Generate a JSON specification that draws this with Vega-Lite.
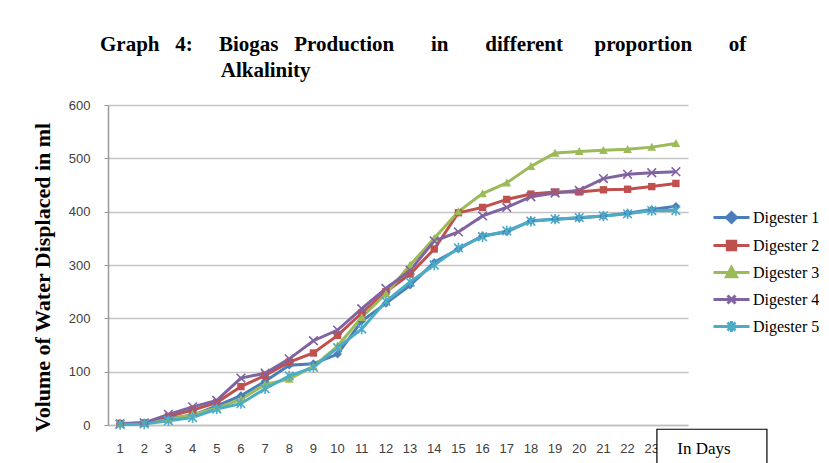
{
  "$schema": "https://vega.github.io/schema/vega-lite/v6.json",
  "width": 580,
  "height": 320,
  "autosize": {"type": "none"},
  "padding": {"left": 108, "top": 105, "right": 141, "bottom": 38},
  "background": "white",
  "title": {
    "text": [
      "Graph\u00a0\u00a0\u00a04:\u00a0\u00a0\u00a0\u00a0\u00a0Biogas\u00a0\u00a0\u00a0Production\u00a0\u00a0\u00a0\u00a0\u00a0\u00a0\u00a0in\u00a0\u00a0\u00a0\u00a0\u00a0\u00a0\u00a0different\u00a0\u00a0\u00a0\u00a0\u00a0\u00a0proportion\u00a0\u00a0\u00a0\u00a0\u00a0\u00a0\u00a0of",
      "\u200b\u00a0\u00a0\u00a0\u00a0\u00a0\u00a0\u00a0\u00a0\u00a0\u00a0\u00a0\u00a0\u00a0\u00a0\u00a0\u00a0\u00a0\u00a0\u00a0\u00a0\u00a0\u00a0\u00a0Alkalinity"
    ],
    "anchor": "start",
    "frame": "group",
    "dx": -8,
    "offset": 18,
    "font": "Liberation Serif",
    "fontSize": 21,
    "fontWeight": "bold",
    "color": "#000000",
    "lineHeight": 26
  },
  "config": {"view": {"stroke": null}, "font": "Liberation Sans"},
  "data": {
    "values": [
      {"Day": 1, "Digester": "Digester 1", "Volume": 2},
      {"Day": 2, "Digester": "Digester 1", "Volume": 3},
      {"Day": 3, "Digester": "Digester 1", "Volume": 12},
      {"Day": 4, "Digester": "Digester 1", "Volume": 18},
      {"Day": 5, "Digester": "Digester 1", "Volume": 36},
      {"Day": 6, "Digester": "Digester 1", "Volume": 55},
      {"Day": 7, "Digester": "Digester 1", "Volume": 82},
      {"Day": 8, "Digester": "Digester 1", "Volume": 112},
      {"Day": 9, "Digester": "Digester 1", "Volume": 115},
      {"Day": 10, "Digester": "Digester 1", "Volume": 133},
      {"Day": 11, "Digester": "Digester 1", "Volume": 195},
      {"Day": 12, "Digester": "Digester 1", "Volume": 228},
      {"Day": 13, "Digester": "Digester 1", "Volume": 262},
      {"Day": 14, "Digester": "Digester 1", "Volume": 305},
      {"Day": 15, "Digester": "Digester 1", "Volume": 330},
      {"Day": 16, "Digester": "Digester 1", "Volume": 355},
      {"Day": 17, "Digester": "Digester 1", "Volume": 362},
      {"Day": 18, "Digester": "Digester 1", "Volume": 383},
      {"Day": 19, "Digester": "Digester 1", "Volume": 386},
      {"Day": 20, "Digester": "Digester 1", "Volume": 388},
      {"Day": 21, "Digester": "Digester 1", "Volume": 392},
      {"Day": 22, "Digester": "Digester 1", "Volume": 397},
      {"Day": 23, "Digester": "Digester 1", "Volume": 404},
      {"Day": 24, "Digester": "Digester 1", "Volume": 410},
      {"Day": 1, "Digester": "Digester 2", "Volume": 3},
      {"Day": 2, "Digester": "Digester 2", "Volume": 4},
      {"Day": 3, "Digester": "Digester 2", "Volume": 16},
      {"Day": 4, "Digester": "Digester 2", "Volume": 28},
      {"Day": 5, "Digester": "Digester 2", "Volume": 42},
      {"Day": 6, "Digester": "Digester 2", "Volume": 72},
      {"Day": 7, "Digester": "Digester 2", "Volume": 93},
      {"Day": 8, "Digester": "Digester 2", "Volume": 118},
      {"Day": 9, "Digester": "Digester 2", "Volume": 135},
      {"Day": 10, "Digester": "Digester 2", "Volume": 168},
      {"Day": 11, "Digester": "Digester 2", "Volume": 210},
      {"Day": 12, "Digester": "Digester 2", "Volume": 250},
      {"Day": 13, "Digester": "Digester 2", "Volume": 283},
      {"Day": 14, "Digester": "Digester 2", "Volume": 330},
      {"Day": 15, "Digester": "Digester 2", "Volume": 398},
      {"Day": 16, "Digester": "Digester 2", "Volume": 408},
      {"Day": 17, "Digester": "Digester 2", "Volume": 423},
      {"Day": 18, "Digester": "Digester 2", "Volume": 433},
      {"Day": 19, "Digester": "Digester 2", "Volume": 437},
      {"Day": 20, "Digester": "Digester 2", "Volume": 437},
      {"Day": 21, "Digester": "Digester 2", "Volume": 441},
      {"Day": 22, "Digester": "Digester 2", "Volume": 442},
      {"Day": 23, "Digester": "Digester 2", "Volume": 447},
      {"Day": 24, "Digester": "Digester 2", "Volume": 453},
      {"Day": 1, "Digester": "Digester 3", "Volume": 2},
      {"Day": 2, "Digester": "Digester 3", "Volume": 3},
      {"Day": 3, "Digester": "Digester 3", "Volume": 10},
      {"Day": 4, "Digester": "Digester 3", "Volume": 20},
      {"Day": 5, "Digester": "Digester 3", "Volume": 32},
      {"Day": 6, "Digester": "Digester 3", "Volume": 48},
      {"Day": 7, "Digester": "Digester 3", "Volume": 76},
      {"Day": 8, "Digester": "Digester 3", "Volume": 86},
      {"Day": 9, "Digester": "Digester 3", "Volume": 110},
      {"Day": 10, "Digester": "Digester 3", "Volume": 148},
      {"Day": 11, "Digester": "Digester 3", "Volume": 202},
      {"Day": 12, "Digester": "Digester 3", "Volume": 246},
      {"Day": 13, "Digester": "Digester 3", "Volume": 300},
      {"Day": 14, "Digester": "Digester 3", "Volume": 350},
      {"Day": 15, "Digester": "Digester 3", "Volume": 400},
      {"Day": 16, "Digester": "Digester 3", "Volume": 434},
      {"Day": 17, "Digester": "Digester 3", "Volume": 454},
      {"Day": 18, "Digester": "Digester 3", "Volume": 485},
      {"Day": 19, "Digester": "Digester 3", "Volume": 510},
      {"Day": 20, "Digester": "Digester 3", "Volume": 513},
      {"Day": 21, "Digester": "Digester 3", "Volume": 515},
      {"Day": 22, "Digester": "Digester 3", "Volume": 517},
      {"Day": 23, "Digester": "Digester 3", "Volume": 521},
      {"Day": 24, "Digester": "Digester 3", "Volume": 528},
      {"Day": 1, "Digester": "Digester 4", "Volume": 2},
      {"Day": 2, "Digester": "Digester 4", "Volume": 4},
      {"Day": 3, "Digester": "Digester 4", "Volume": 20},
      {"Day": 4, "Digester": "Digester 4", "Volume": 34},
      {"Day": 5, "Digester": "Digester 4", "Volume": 46},
      {"Day": 6, "Digester": "Digester 4", "Volume": 88},
      {"Day": 7, "Digester": "Digester 4", "Volume": 97},
      {"Day": 8, "Digester": "Digester 4", "Volume": 124},
      {"Day": 9, "Digester": "Digester 4", "Volume": 158},
      {"Day": 10, "Digester": "Digester 4", "Volume": 178},
      {"Day": 11, "Digester": "Digester 4", "Volume": 218},
      {"Day": 12, "Digester": "Digester 4", "Volume": 256},
      {"Day": 13, "Digester": "Digester 4", "Volume": 290},
      {"Day": 14, "Digester": "Digester 4", "Volume": 345},
      {"Day": 15, "Digester": "Digester 4", "Volume": 362},
      {"Day": 16, "Digester": "Digester 4", "Volume": 392},
      {"Day": 17, "Digester": "Digester 4", "Volume": 408},
      {"Day": 18, "Digester": "Digester 4", "Volume": 428},
      {"Day": 19, "Digester": "Digester 4", "Volume": 435},
      {"Day": 20, "Digester": "Digester 4", "Volume": 440},
      {"Day": 21, "Digester": "Digester 4", "Volume": 462},
      {"Day": 22, "Digester": "Digester 4", "Volume": 470},
      {"Day": 23, "Digester": "Digester 4", "Volume": 473},
      {"Day": 24, "Digester": "Digester 4", "Volume": 475},
      {"Day": 1, "Digester": "Digester 5", "Volume": 1},
      {"Day": 2, "Digester": "Digester 5", "Volume": 2},
      {"Day": 3, "Digester": "Digester 5", "Volume": 8},
      {"Day": 4, "Digester": "Digester 5", "Volume": 14},
      {"Day": 5, "Digester": "Digester 5", "Volume": 30},
      {"Day": 6, "Digester": "Digester 5", "Volume": 40},
      {"Day": 7, "Digester": "Digester 5", "Volume": 68},
      {"Day": 8, "Digester": "Digester 5", "Volume": 92},
      {"Day": 9, "Digester": "Digester 5", "Volume": 108},
      {"Day": 10, "Digester": "Digester 5", "Volume": 145},
      {"Day": 11, "Digester": "Digester 5", "Volume": 180},
      {"Day": 12, "Digester": "Digester 5", "Volume": 232},
      {"Day": 13, "Digester": "Digester 5", "Volume": 268},
      {"Day": 14, "Digester": "Digester 5", "Volume": 300},
      {"Day": 15, "Digester": "Digester 5", "Volume": 332},
      {"Day": 16, "Digester": "Digester 5", "Volume": 353},
      {"Day": 17, "Digester": "Digester 5", "Volume": 364},
      {"Day": 18, "Digester": "Digester 5", "Volume": 382},
      {"Day": 19, "Digester": "Digester 5", "Volume": 386},
      {"Day": 20, "Digester": "Digester 5", "Volume": 389},
      {"Day": 21, "Digester": "Digester 5", "Volume": 392},
      {"Day": 22, "Digester": "Digester 5", "Volume": 396},
      {"Day": 23, "Digester": "Digester 5", "Volume": 402},
      {"Day": 24, "Digester": "Digester 5", "Volume": 402}
    ]
  },
  "layer": [
    {
      "mark": {"type": "line", "strokeWidth": 3},
      "encoding": {
        "x": {
          "field": "Day",
          "type": "ordinal",
          "sort": "ascending",
          "axis": {
            "title": null,
            "labelAngle": 0,
            "labelFont": "Liberation Sans",
            "labelFontSize": 13,
            "labelColor": "#404040",
            "domain": true,
            "domainColor": "#bfbfbf",
            "domainWidth": 1.5,
            "ticks": false,
            "labelPadding": 17,
            "grid": false,
            "labelExpr": "datum.value == 24 ? '' : datum.label"
          }
        },
        "y": {
          "field": "Volume",
          "type": "quantitative",
          "scale": {"domain": [0, 600], "nice": false, "zero": true},
          "axis": {
            "title": "Volume of Water Displaced in ml",
            "titleFont": "Liberation Serif",
            "titleFontSize": 22,
            "titleFontWeight": "bold",
            "titleColor": "#000000",
            "titleX": -66,
            "titleY": 172,
            "titleAngle": -90,
            "titleAlign": "center",
            "titleBaseline": "middle",
            "values": [0, 100, 200, 300, 400, 500, 600],
            "labelFont": "Liberation Sans",
            "labelFontSize": 13,
            "labelColor": "#404040",
            "domainColor": "#999999",
            "domainWidth": 1.5,
            "tickColor": "#999999",
            "tickSize": 4,
            "labelPadding": 14,
            "grid": true,
            "gridColor": "#c4c4c4",
            "gridWidth": 1.5
          }
        },
        "color": {
          "field": "Digester",
          "type": "nominal",
          "scale": {
            "domain": ["Digester 1", "Digester 2", "Digester 3", "Digester 4", "Digester 5"],
            "range": ["#4A7EBB", "#C0504D", "#9BBB59", "#8064A2", "#4BACC6"]
          },
          "legend": {
            "orient": "none",
            "legendX": 612,
            "legendY": 101,
            "title": null,
            "labelFont": "Liberation Serif",
            "labelFontSize": 16,
            "labelColor": "#000000",
            "symbolSize": 400,
            "symbolStrokeWidth": 3,
            "labelOffset": 10,
            "rowPadding": 5,
            "padding": 0,
            "symbolType": "stroke",
            "encode": {
              "symbols": {
                "update": {
                  "shape": {"signal": "datum.value === 'Digester 1' ? 'M-1.8,0H1.8M0,-0.5L0.5,0L0,0.5L-0.5,0Z' : datum.value === 'Digester 2' ? 'M-1.8,0H1.8M-0.42,-0.42H0.42V0.42H-0.42Z' : datum.value === 'Digester 3' ? 'M-1.8,0H1.8M0,-0.5L0.5,0.42H-0.5Z' : datum.value === 'Digester 4' ? 'M-1.8,0H1.8M-0.4,-0.4L0.4,0.4M-0.4,0.4L0.4,-0.4' : 'M-1.8,0H1.8M-0.4,-0.4L0.4,0.4M-0.4,0.4L0.4,-0.4M0,-0.55V0.55'"},
                  "fill": {"scale": "color", "field": "value"},
                  "stroke": {"scale": "color", "field": "value"},
                  "strokeWidth": {"value": 3},
                  "opacity": {"value": 1}
                }
              }
            }
          }
        }
      }
    },
    {
      "transform": [{"filter": "datum.Digester === 'Digester 1'"}],
      "mark": {"type": "point", "shape": "M0,-1L1,0L0,1L-1,0Z", "filled": true, "color": "#4A7EBB", "size": 75, "opacity": 1},
      "encoding": {"x": {"field": "Day", "type": "ordinal"}, "y": {"field": "Volume", "type": "quantitative"}}
    },
    {
      "transform": [{"filter": "datum.Digester === 'Digester 2'"}],
      "mark": {"type": "point", "shape": "M-0.85,-0.85H0.85V0.85H-0.85Z", "filled": true, "color": "#C0504D", "size": 75, "opacity": 1},
      "encoding": {"x": {"field": "Day", "type": "ordinal"}, "y": {"field": "Volume", "type": "quantitative"}}
    },
    {
      "transform": [{"filter": "datum.Digester === 'Digester 3'"}],
      "mark": {"type": "point", "shape": "M0,-1L1,0.85H-1Z", "filled": true, "color": "#9BBB59", "size": 75, "opacity": 1},
      "encoding": {"x": {"field": "Day", "type": "ordinal"}, "y": {"field": "Volume", "type": "quantitative"}}
    },
    {
      "transform": [{"filter": "datum.Digester === 'Digester 4'"}],
      "mark": {"type": "point", "shape": "M-1,-1L1,1M-1,1L1,-1", "filled": false, "color": "#8064A2", "strokeWidth": 1.6, "size": 75, "opacity": 1},
      "encoding": {"x": {"field": "Day", "type": "ordinal"}, "y": {"field": "Volume", "type": "quantitative"}}
    },
    {
      "transform": [{"filter": "datum.Digester === 'Digester 5'"}],
      "mark": {"type": "point", "shape": "M-1,-1L1,1M-1,1L1,-1M0,-1.2V1.2", "filled": false, "color": "#4BACC6", "strokeWidth": 1.6, "size": 75, "opacity": 1},
      "encoding": {"x": {"field": "Day", "type": "ordinal"}, "y": {"field": "Volume", "type": "quantitative"}}
    },
    {
      "data": {"values": [{"Box": "In Days"}]},
      "mark": {"type": "rect", "fill": "white", "stroke": "black", "strokeWidth": 1.2, "width": 110, "xOffset": 36},
      "encoding": {
        "x": {"datum": 24, "type": "ordinal"},
        "y": {"datum": -8, "type": "quantitative"},
        "y2": {"datum": -90}
      }
    },
    {
      "data": {"values": [{"Box": "In Days"}]},
      "mark": {"type": "text", "font": "Liberation Serif", "fontSize": 17, "color": "#000000", "dx": 28, "align": "center", "baseline": "middle"},
      "encoding": {
        "x": {"datum": 24, "type": "ordinal"},
        "y": {"datum": -45, "type": "quantitative"},
        "text": {"field": "Box", "type": "nominal"}
      }
    }
  ]
}
